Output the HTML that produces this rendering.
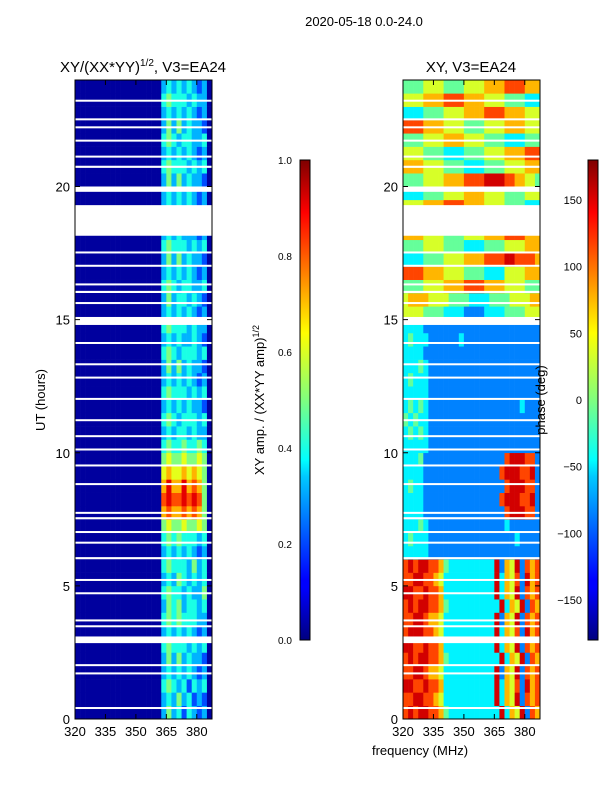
<!DOCTYPE html>
<html><head><meta charset="utf-8"><style>
body{margin:0;background:#fff;font-family:"Liberation Sans",sans-serif;}
svg text{font-family:"Liberation Sans",sans-serif;fill:#000;}
</style></head><body>
<svg id="fig" width="600" height="800" xmlns="http://www.w3.org/2000/svg">
<defs>
<linearGradient id="jet" x1="0" y1="1" x2="0" y2="0">
<stop offset="0" stop-color="#00007f"/><stop offset="0.11" stop-color="#0000ff"/><stop offset="0.125" stop-color="#0000ff"/>
<stop offset="0.34" stop-color="#00c8ff"/><stop offset="0.375" stop-color="#00ffff"/><stop offset="0.5" stop-color="#7fff7f"/>
<stop offset="0.64" stop-color="#ffff00"/><stop offset="0.89" stop-color="#ff0000"/><stop offset="1" stop-color="#7f0000"/>
</linearGradient>
<clipPath id="c1"><rect x="75" y="80" width="137" height="639"/></clipPath>
<clipPath id="c2"><rect x="403" y="80" width="137" height="639"/></clipPath>
</defs>
<text x="364" y="26" font-size="13" text-anchor="middle">2020-05-18 0.0-24.0</text>
<text x="143" y="72" font-size="15" text-anchor="middle">XY/(XX*YY)<tspan font-size="10" dy="-6">1/2</tspan><tspan dy="6">, V3=EA24</tspan></text>
<text x="471" y="72" font-size="15" text-anchor="middle">XY, V3=EA24</text>
<g id="p1" clip-path="url(#c1)"></g>
<g id="p2" clip-path="url(#c2)"></g>
<rect x="75" y="80" width="137" height="639" fill="none" stroke="#000"/>
<rect x="403" y="80" width="137" height="639" fill="none" stroke="#000"/>
<g id="ticks"></g>
<text transform="translate(45,400) rotate(-90)" font-size="13" text-anchor="middle">UT (hours)</text>
<text x="420" y="755" font-size="13" text-anchor="middle">frequency (MHz)</text>
<rect x="300" y="160" width="10" height="480" fill="url(#jet)" stroke="#000"/>
<rect x="588" y="160" width="10" height="480" fill="url(#jet)" stroke="#000"/>
<text transform="translate(264,400) rotate(-90)" font-size="13" text-anchor="middle">XY amp. / (XX*YY amp)<tspan font-size="9" dy="-5">1/2</tspan></text>
<text transform="translate(545,400) rotate(-90)" font-size="13" text-anchor="middle">phase (deg)</text>
</svg>
<script>
const freqMin=320,freqMax=387.5,nBins=27;
const xTicks=[320,335,350,365,380];
const yTicks=[0,5,10,15,20];
const ampTicks=[0.0,0.2,0.4,0.6,0.8,1.0];
const phaseTicks=[-150,-100,-50,0,50,100,150];
const ampBase="00000000000000000";
const ampBright=[
"353424323","343534232","454342434","343434323","353534332","454443434",
"343434323","454544433","354534434","454434335","343543434","454443534",
"343434323","454544434","565565565","787787875","898898985","797797875",
"676676765","565565565","454454454","343443433","454344434","343434332",
"454443434","343434323","353534332","454344434","343433432","454443433",
"343434323","353443432","454344334","343434323","353534332","454443434",
"343433323","454344334","343434323","343434323","353534332","454443434",
"343434323","454344334","353534332","343434323","454443433","343434323"];
const phaseRows=[
"787887764333333333383658276","778877653333333333836582767","887787763333333333836572867",
"778876653333333333826582767","787887764333333333383658276","887787763333333333836582767",
"788877653333333333836572867","778876653333333333826582767","787887764333333333383658276",
"887787763333333333836582767","778877653333333333836572867","787887764333333333826582767",
"333332222222222222222222222","343332222222222222222232222","333432222222222222223222222",
"333322222222222222227888772","333322222222222222278887782","343322222222222222227888772",
"333322222222222222278887782","333422222222222222227888772","333332222222222222222222222",
"343432222222222222222222222","434332222222222222222222222","343432222222222222222223222",
"333332222222222222222222222","343332222222222222222222222","333432222222222222222222222",
"333322222222222222222222222","343332222223222222222222222","333322222222222222222222222",
"555544443333222233334444555","566665555444433334444555566","444455556666777766665555444",
"777766665555444433335555666","333344445555666677778877776","444455554444333344445555666",
"666655554444555566667777666","444444444444444444444444444","555566667777666655554444333",
"333344445555666655554444555","444455556666777788887766554","666655554444333344445555666",
"555544443333444455556666777","444455556666555544443333444","777766665555444455556666555",
"333344445555666677776666555","555566667777666655554444333","444455554444555566667777666"];
const gaps=[[0.38,0.45],[1.68,1.75],[2.0,2.06],[2.85,3.1],[3.45,3.52],[3.68,3.74],[4.7,4.76],[5.2,5.26],[6.0,6.08],[6.6,6.66],[7.0,7.06],[7.5,7.58],[7.72,7.78],[8.8,8.86],[9.5,9.56],[10.1,10.16],[10.6,10.66],[11.2,11.26],[12.0,12.06],[12.8,12.86],[13.3,13.36],[14.1,14.16],[14.8,15.1],[15.6,15.66],[16.0,16.08],[16.3,16.36],[17.0,17.06],[17.5,17.56],[18.15,19.3],[19.8,20.0],[20.7,20.78],[21.1,21.16],[21.7,21.76],[22.2,22.26],[22.5,22.56],[23.2,23.26]];
const NS='http://www.w3.org/2000/svg';
function jet(v){v=Math.max(0,Math.min(1,v));
 const r=Math.max(0,Math.min(1,1.5-Math.abs(4*v-3))),g=Math.max(0,Math.min(1,1.5-Math.abs(4*v-2))),b=Math.max(0,Math.min(1,1.5-Math.abs(4*v-1)));
 return `rgb(${Math.round(r*255)},${Math.round(g*255)},${Math.round(b*255)})`;}
function xs(x0){return f=>x0+(f-freqMin)/(freqMax-freqMin)*137;}
function ys(h){return 719-h/24*639;}
function el(tag,attrs,parent){const e=document.createElementNS(NS,tag);for(const k in attrs)e.setAttribute(k,attrs[k]);parent.appendChild(e);return e;}
const bw=(freqMax-freqMin)/nBins;
function drawHeat(g,x0,valFn,nRows){
 const X=xs(x0),dh=24/nRows;
 for(let r=0;r<nRows;r++)for(let c=0;c<nBins;c++){
  const v=valFn(r,c);
  const e=el('rect',{x:X(freqMin+c*bw),y:ys((r+1)*dh),width:X(freqMin+(c+1)*bw)-X(freqMin+c*bw)+0.3,height:ys(r*dh)-ys((r+1)*dh)+0.3,fill:jet(v)},g);
  
  
 }
 gaps.forEach(gp=>{const e=el('rect',{x:x0,y:ys(gp[1]),width:137,height:Math.max(2,ys(gp[0])-ys(gp[1])),fill:'#fff'},g);
  
  });
}
const ampRows=ampBright.map(s=>(ampBase+s+"0"));
drawHeat(document.getElementById('p1'),75,(r,c)=>{const d=+ampRows[r][c];return c<17||c>25?0.03:d/10;},48);
drawHeat(document.getElementById('p2'),403,(r,c)=>{const d=+phaseRows[r][c];return (d*40)/360+0.03;},48);
const tg=document.getElementById('ticks');
[75,403].forEach(x0=>{const X=xs(x0);
 xTicks.forEach(t=>{el('line',{x1:X(t),x2:X(t),y1:719,y2:714,stroke:'#000'},tg);el('line',{x1:X(t),x2:X(t),y1:80,y2:85,stroke:'#000'},tg);
  const e=el('text',{x:X(t),y:736,'font-size':13,'text-anchor':'middle'},tg);e.textContent=t;
  
  });
 yTicks.forEach(t=>{el('line',{x1:x0,x2:x0+5,y1:ys(t),y2:ys(t),stroke:'#000'},tg);el('line',{x1:x0+137,x2:x0+132,y1:ys(t),y2:ys(t),stroke:'#000'},tg);
  const e=el('text',{x:x0-5,y:ys(t)+5,'font-size':13,'text-anchor':'end'},tg);e.textContent=t;
  
  });
});
ampTicks.forEach(t=>{const y=640-t*480;el('line',{x1:300,x2:303,y1:y,y2:y,stroke:'#000'},tg);
 const e=el('text',{x:278,y:y+4,'font-size':10},tg);e.textContent=t.toFixed(1);
 
 });
phaseTicks.forEach(t=>{const y=640-(t+180)/360*480;el('line',{x1:588,x2:591,y1:y,y2:y,stroke:'#000'},tg);
 const e=el('text',{x:582,y:y+4,'font-size':11,'text-anchor':'end'},tg);e.textContent=t<0?'\u2212'+(-t):t;
 
 });
</script>
</body></html>
